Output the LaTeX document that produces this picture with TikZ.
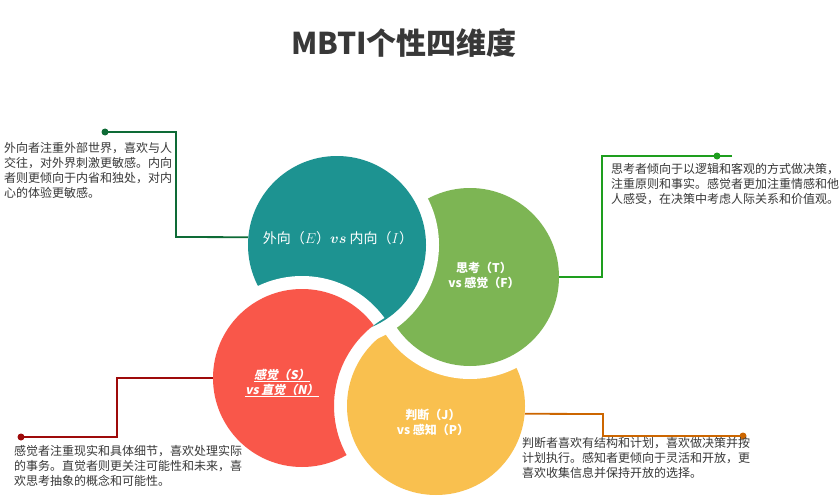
\documentclass[tikz,border=0pt]{standalone}
\usepackage{fontspec}
\setmainfont{Noto Sans CJK SC}
\newfontfamily\slantcjk{Noto Sans CJK SC}[FakeSlant=0.2]
\definecolor{tealc}{HTML}{1D9391}
\definecolor{greenc}{HTML}{7DB554}
\definecolor{redc}{HTML}{F9574A}
\definecolor{yellowc}{HTML}{F9C04F}
\definecolor{lnE}{HTML}{0E6B36}
\definecolor{lnT}{HTML}{1E9E1E}
\definecolor{lnS}{HTML}{9E0A0A}
\definecolor{lnJ}{HTML}{CC6600}
\definecolor{txt}{HTML}{383838}
\tikzset{
  bubble/.style={circle, inner sep=0pt, minimum size=178pt},
  halo/.style={fill=white},
  conn/.style={line width=1.8pt},
  dotmark/.style={circle, inner sep=0pt, minimum size=7pt},
  desc/.style={anchor=north west, inner sep=0pt, align=left, text=txt, font=\fontsize{12}{15.2}\selectfont},
  inlab/.style={text=white, align=center, inner sep=0pt, font=\fontsize{12}{15}\selectfont\bfseries}
}
\begin{document}
\begin{tikzpicture}[x=1pt,y=-1pt]
\useasboundingbox (0,0) rectangle (840,500);
\fill[white] (0,0) rectangle (840,500);
% centres
\coordinate (cE) at (337,245);
\coordinate (cT) at (470,277);
\coordinate (cS) at (302,378);
\coordinate (cJ) at (436,406);
% circles (cyclic overlap)
\fill[halo] (cJ) circle (102pt);
\node[bubble, fill=yellowc] (yellow) at (cJ) {};
\fill[halo] (cT) circle (102pt);
\node[bubble, fill=greenc] (green) at (cT) {};
\fill[halo] (cE) circle (102pt);
\node[bubble, fill=tealc] (teal) at (cE) {};
\begin{scope}[even odd rule]
  \clip (0,0) rectangle (840,500) (cJ) circle (102pt);
  \fill[halo] (cS) circle (102pt);
  \node[bubble, fill=redc] (red) at (cS) {};
\end{scope}
% title
\node[text=txt, font=\fontsize{30}{36}\selectfont\bfseries] (title) at (404,43) {MBTI个性四维度};
% labels in circles
\node[text=white, inner sep=0pt, font=\fontsize{14}{16}\selectfont] (labE) at (338,238) {外向（$E$）{\boldmath$vs$} 内向（$I$）};
\node[inlab] (labT) at (484,275) {思考（T）\\vs 感觉（F）};
\node[inlab] (labJ) at (433,422) {判断（J）\\vs 感知（P）};
\node[text=white, align=center, inner sep=0pt, font=\fontsize{12}{15}\slantcjk\bfseries] (labS) at (282,383) {\underline{感觉（S）}\\\underline{vs 直觉（N）}};
% connectors
\node[dotmark, fill=lnE] (dE) at (105,132) {};
\coordinate (kE1) at (176,132);
\coordinate (kE2) at (176,237);
\draw[conn, lnE] (dE.center) -- (kE1) -- (kE2) -- (teal.175);
\node[dotmark, fill=lnT] (dT) at (717,156) {};
\coordinate (eT) at (732,156);
\coordinate (kT1) at (602,156);
\coordinate (kT2) at (602,277);
\draw[conn, lnT] (eT) -- (kT1) -- (kT2) -- (green.east);
\node[dotmark, fill=lnS] (dS) at (21,437) {};
\coordinate (kS1) at (117,437);
\coordinate (kS2) at (117,378);
\draw[conn, lnS] (dS.center) -- (kS1) -- (kS2) -- (red.west);
\node[dotmark, fill=lnJ] (dJ) at (743,436) {};
\coordinate (kJ1) at (603,414);
\coordinate (kJ2) at (603,436);
\draw[conn, lnJ] (yellow.-5) -- (kJ1) -- (kJ2) -- (dJ.center);
% descriptions
\node[desc] (tE) at (4,142) {外向者注重外部世界，喜欢与人\\交往，对外界刺激更敏感。内向\\者则更倾向于内省和独处，对内\\心的体验更敏感。};
\node[desc] (tT) at (611,163) {思考者倾向于以逻辑和客观的方式做决策，\\注重原则和事实。感觉者更加注重情感和他\\人感受，在决策中考虑人际关系和价值观。};
\node[desc] (tS) at (14,445) {感觉者注重现实和具体细节，喜欢处理实际\\的事务。直觉者则更关注可能性和未来，喜\\欢思考抽象的概念和可能性。};
\node[desc] (tJ) at (522,437) {判断者喜欢有结构和计划，喜欢做决策并按\\计划执行。感知者更倾向于灵活和开放，更\\喜欢收集信息并保持开放的选择。};
\end{tikzpicture}
\end{document}
